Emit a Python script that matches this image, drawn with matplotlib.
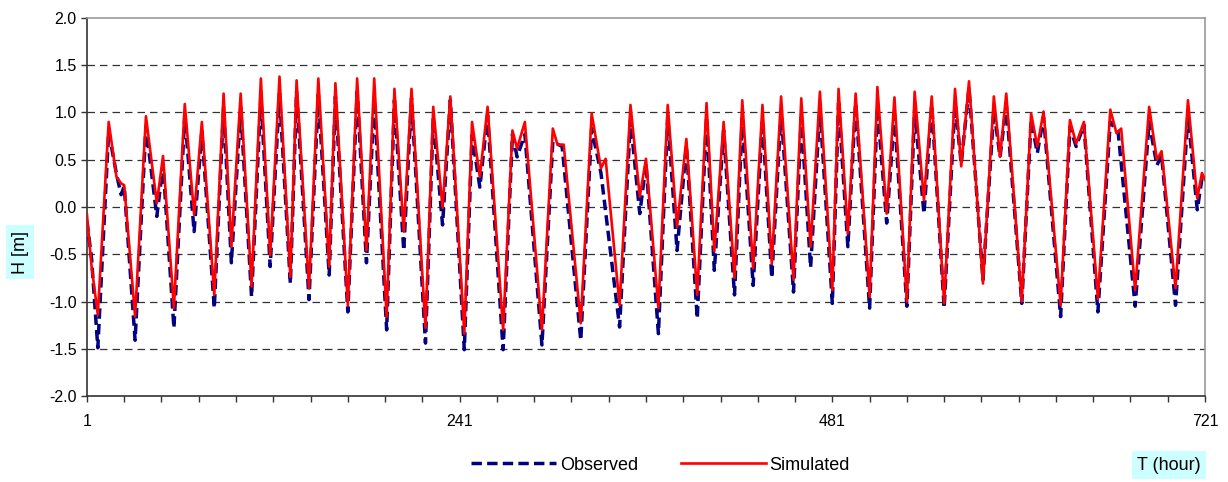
import numpy as np
import matplotlib.pyplot as plt
from matplotlib.lines import Line2D

# Water level extremes (hour, H in m)
sim_t = [1, 4, 8, 15, 20, 23, 25, 32, 39, 46, 50, 57, 64, 70, 75, 83, 89, 94, 100, 107,
         113, 119, 125, 132, 136, 144, 150, 157, 161, 169, 175, 181, 186, 194, 199, 205,
         210, 219, 224, 230, 235, 244, 249, 254, 259, 269, 275, 278, 283, 294, 301, 304,
         308, 319, 326, 332, 335, 344, 351, 357, 361, 369, 375, 381, 387, 394, 400, 405,
         411, 418, 423, 430, 436, 442, 448, 456, 461, 467, 473, 481, 485, 491, 496, 505,
         510, 516, 521, 529, 534, 540, 545, 553, 560, 564, 569, 578, 585, 589, 593, 603,
         609, 613, 617, 628, 634, 638, 643, 652, 660, 664, 667, 676, 685, 690, 693, 702,
         710, 716, 719, 721]
sim_h = [-0.08, -0.63, -1.14, 0.90, 0.32, 0.25, 0.23, -1.16, 0.96, 0.04, 0.54, -1.07, 1.09,
         -0.08, 0.90, -0.93, 1.20, -0.42, 1.20, -0.84, 1.36, -0.51, 1.38, -0.74, 1.34, -0.86,
         1.36, -0.63, 1.31, -1.04, 1.36, -0.46, 1.36, -1.16, 1.25, -0.26, 1.25, -1.28, 1.06,
         -0.01, 1.17, -1.34, 0.90, 0.32, 1.06, -1.30, 0.81, 0.62, 0.90, -1.30, 0.83, 0.66,
         0.66, -1.23, 0.99, 0.41, 0.51, -1.04, 1.08, 0.11, 0.51, -1.07, 1.08, -0.21, 0.72,
         -0.93, 1.10, -0.47, 0.90, -0.75, 1.13, -0.65, 1.08, -0.60, 1.17, -0.77, 1.15, -0.42,
         1.22, -0.88, 1.25, -0.28, 1.20, -0.95, 1.27, -0.07, 1.16, -1.00, 1.22, 0.07, 1.17,
         -1.02, 1.25, 0.43, 1.33, -0.81, 1.17, 0.53, 1.20, -1.00, 0.99, 0.64, 1.01, -1.04,
         0.92, 0.67, 0.90, -0.97, 1.03, 0.78, 0.83, -0.88, 1.06, 0.50, 0.59, -0.86, 1.13,
         0.09, 0.36, 0.29]

obs_t = [1, 4, 8, 15, 20, 23, 25, 32, 39, 46, 50, 57, 64, 70, 75, 83, 89, 94, 100, 107,
         113, 119, 125, 132, 136, 144, 150, 157, 161, 169, 175, 181, 186, 194, 199, 205,
         210, 219, 224, 230, 235, 244, 249, 254, 259, 269, 275, 278, 283, 294, 301, 307,
         319, 326, 332, 344, 351, 357, 361, 369, 375, 381, 387, 394, 400, 405, 411, 418,
         423, 430, 436, 442, 448, 456, 461, 467, 473, 481, 485, 491, 496, 505, 510, 516,
         521, 529, 534, 540, 545, 553, 560, 564, 569, 578, 585, 589, 593, 603, 609, 613,
         617, 628, 634, 638, 643, 652, 660, 665, 676, 685, 690, 693, 702, 710, 716, 719, 721]
obs_h = [-0.15, -0.55, -1.49, 0.80, 0.35, 0.13, 0.22, -1.41, 0.85, -0.10, 0.45, -1.28, 0.97,
         -0.26, 0.80, -1.07, 1.06, -0.59, 1.05, -0.95, 1.17, -0.63, 1.20, -0.81, 1.22, -0.98,
         1.19, -0.72, 1.17, -1.11, 1.22, -0.59, 1.13, -1.30, 1.13, -0.46, 1.15, -1.44, 0.94,
         -0.19, 1.13, -1.51, 0.76, 0.21, 0.97, -1.51, 0.77, 0.53, 0.77, -1.46, 0.69, 0.64,
         -1.41, 0.83, 0.36, -1.27, 0.92, -0.07, 0.46, -1.34, 0.95, -0.46, 0.65, -1.18, 0.95,
         -0.67, 0.81, -0.93, 0.94, -0.83, 0.92, -0.75, 1.01, -0.90, 0.95, -0.64, 1.04, -1.02,
         1.10, -0.42, 1.10, -1.07, 1.06, -0.17, 0.97, -1.05, 1.03, -0.07, 1.08, -1.07, 1.10,
         0.46, 1.26, -0.77, 1.03, 0.53, 1.08, -1.02, 0.92, 0.57, 0.95, -1.16, 0.85, 0.64,
         0.87, -1.11, 0.90, 0.80, -1.05, 0.90, 0.44, 0.55, -1.04, 0.97, -0.03, 0.30, 0.25]

x_labels = [1, 241, 481, 721]
y_ticks = [-2.0, -1.5, -1.0, -0.5, 0.0, 0.5, 1.0, 1.5, 2.0]

plt.rcParams['font.family'] = ['Liberation Sans', 'DejaVu Sans']

fig = plt.figure(figsize=(12.28, 4.82), dpi=100)
ax = fig.add_axes([0.0708, 0.1784, 0.9105, 0.7843])

navy = '#000080'
ax.plot(obs_t, obs_h, color=navy, lw=2.5, dashes=(3.0, 1.5), zorder=3,
        dash_joinstyle='round')
ax.plot(sim_t, sim_h, color='#ff0000', lw=1.9, zorder=4, solid_joinstyle='round')

ax.set_xlim(1, 721)
ax.set_ylim(-2, 2)
ax.set_yticks(y_ticks)
ax.set_yticklabels([f'{v:.1f}' for v in y_ticks], fontsize=11.5)
xt = np.arange(1, 722, 24)
ax.set_xticks(xt)
ax.set_xticklabels([str(v) if v in x_labels else '' for v in xt], fontsize=11.5)
ax.tick_params(axis='both', direction='out', length=4, width=1, color='#333333')
ax.tick_params(axis='x', pad=9)

for v in y_ticks[1:-1]:
    ax.axhline(v, color='#333333', lw=0.9, dashes=(6, 4), zorder=1)

ax.spines['left'].set_color('#333333')
ax.spines['bottom'].set_color('#333333')
ax.spines['top'].set_color('#999999')
ax.spines['right'].set_color('#999999')
for s in ax.spines.values():
    s.set_linewidth(1.2)

fig.text(0.0163, 0.477, 'H [m]', rotation=90, ha='center', va='center', fontsize=13,
         bbox=dict(facecolor='#ccffff', edgecolor='none', pad=4))
fig.text(0.952, 0.035, 'T (hour)', ha='center', va='center', fontsize=13,
         bbox=dict(facecolor='#ccffff', edgecolor='none', pad=4))

handles = [Line2D([], [], color=navy, lw=2.5, dashes=(3.0, 1.5)),
           Line2D([], [], color='#ff0000', lw=1.9)]
fig.legend(handles, ['Observed', 'Simulated'], loc='center', bbox_to_anchor=(0.538, 0.035),
           ncol=2, frameon=False, fontsize=13, handlelength=4.7, handletextpad=0.2,
           columnspacing=2.4)

fig.savefig('out.png', dpi=100)
